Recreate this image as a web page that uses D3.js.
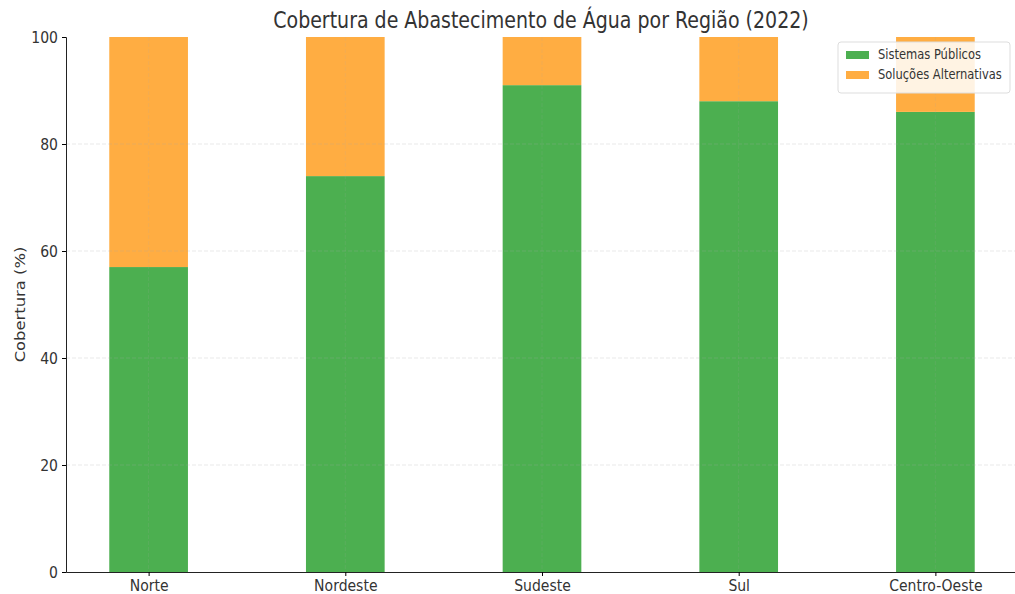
<!DOCTYPE html>
<html>
<head>
<meta charset="utf-8">
<script src="https://cdn.jsdelivr.net/npm/d3@7"></script>
<style>
  body { margin: 0; background: #fff; }
  text { font-family: "DejaVu Sans", sans-serif; }
</style>
</head>
<body>
<svg></svg>
<script>
const width = 1015;
const height = 594;

const regioes = ["Norte", "Nordeste", "Sudeste", "Sul", "Centro-Oeste"];
const sistemasPublicos = [57, 74, 91, 88, 86];
const solucoesAlternativas = [43, 26, 9, 12, 14];
const yTicks = [0, 20, 40, 60, 80, 100];
const series = ["Sistemas Públicos", "Soluções Alternativas"];
const cores = ["#4caf50", "#ffad42"];

let svg = d3.select("svg")
    .attr("width", width)
    .attr("height", height);

const mLeft = 66, mRight = 1018, mTop = 37, mBottom = 572;
const sy = 1.17; // text looks stretched vertically in the reference

let x = d3.scaleLinear().domain([-0.42, regioes.length - 1 + 0.42]).range([mLeft, mRight]);
let y = d3.scaleLinear().domain([0, 100]).range([mBottom, mTop]);
const barW = x(0.4) - x(0);

// bars
let dados = regioes.map((r, i) => ({regiao: r, i: i, pub: sistemasPublicos[i], alt: solucoesAlternativas[i]}));

svg.append("g").selectAll("rect")
    .data(dados)
    .join("rect")
    .attr("x", d => x(d.i) - barW / 2)
    .attr("width", barW)
    .attr("y", d => y(d.pub))
    .attr("height", d => y(0) - y(d.pub))
    .attr("fill", cores[0]);

svg.append("g").selectAll("rect")
    .data(dados)
    .join("rect")
    .attr("x", d => x(d.i) - barW / 2)
    .attr("width", barW)
    .attr("y", d => y(d.pub + d.alt))
    .attr("height", d => y(d.pub) - y(d.pub + d.alt))
    .attr("fill", cores[1]);

// grid, faint, over the bars
let grid = svg.append("g")
    .attr("stroke", "#aaa")
    .attr("stroke-opacity", 0.25)
    .attr("stroke-width", 1)
    .attr("stroke-dasharray", "4,2");
grid.selectAll(".h")
    .data(yTicks.filter(d => d > 0 && d < 100))
    .join("line")
    .attr("class", "h")
    .attr("x1", mLeft).attr("x2", mRight)
    .attr("y1", d => y(d)).attr("y2", d => y(d));
grid.selectAll(".v")
    .data(d3.range(regioes.length))
    .join("line")
    .attr("class", "v")
    .attr("x1", d => x(d)).attr("x2", d => x(d))
    .attr("y1", mTop).attr("y2", mBottom)
    .attr("stroke-opacity", 0.15);

// axes
let yAxis = svg.append("g")
    .attr("transform", `translate(${mLeft},0)`)
    .call(d3.axisLeft(y).tickValues(yTicks).tickSize(4).tickPadding(4));
yAxis.selectAll("text")
    .style("font-size", "14px")
    .attr("fill", "#333")
    .attr("transform", `scale(1,${sy})`);
yAxis.select(".domain").attr("stroke", "#222");

let xAxis = svg.append("g")
    .attr("transform", `translate(0,${mBottom})`)
    .call(d3.axisBottom(x).tickValues(d3.range(regioes.length)).tickFormat(i => regioes[i]).tickSize(4).tickPadding(2).tickSizeOuter(0));
xAxis.selectAll("text")
    .style("font-size", "14px")
    .attr("fill", "#333")
    .attr("transform", `scale(1,${sy})`);
xAxis.select(".domain").attr("stroke", "#222");

// title
svg.append("text")
    .attr("transform", `translate(541,28) scale(1,${sy})`)
    .attr("text-anchor", "middle")
    .style("font-size", "19px")
    .attr("fill", "#333")
    .text("Cobertura de Abastecimento de Água por Região (2022)");

svg.append("text")
    .attr("transform", `translate(25,${(mTop + mBottom) / 2}) rotate(-90) scale(${sy},1)`)
    .attr("text-anchor", "middle")
    .style("font-size", "14px")
    .attr("fill", "#333")
    .text("Cobertura (%)");

// legend
let legend = svg.append("g").attr("transform", "translate(838,42)");
legend.append("rect")
    .attr("width", 172).attr("height", 51)
    .attr("rx", 3)
    .attr("fill", "rgba(255,255,255,0.85)")
    .attr("stroke", "#ddd");
series.forEach((s, i) => {
    legend.append("rect")
        .attr("x", 8).attr("y", 9 + i * 20)
        .attr("width", 23).attr("height", 8)
        .attr("fill", cores[i]);
    legend.append("text")
        .attr("transform", `translate(40,${17 + i * 20}) scale(1,${sy})`)
        .style("font-size", "11.5px")
        .attr("fill", "#333")
        .text(s);
});
</script>
</body>
</html>
